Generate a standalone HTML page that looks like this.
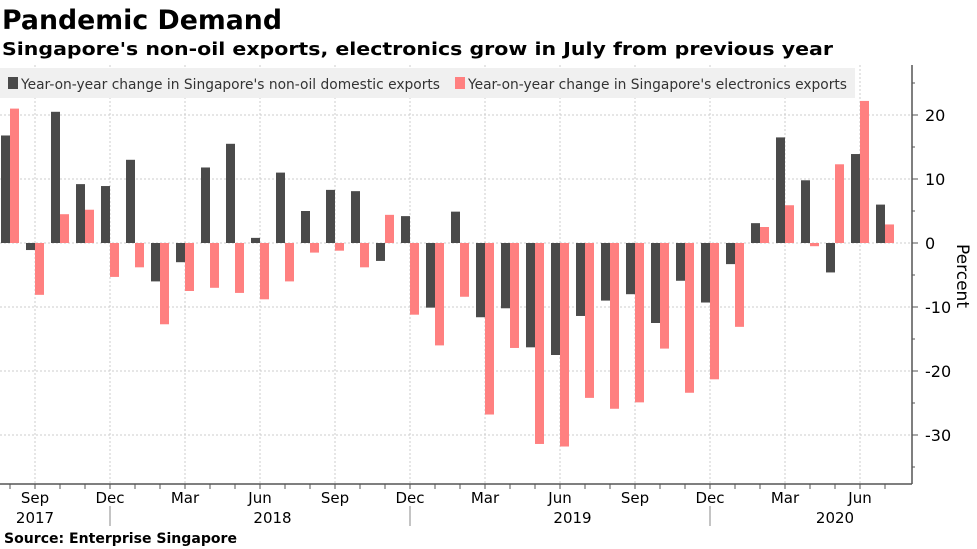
<!DOCTYPE html>
<html><head><meta charset="utf-8"><style>
body{margin:0;background:#fff;width:977px;height:549px;overflow:hidden;font-family:"DejaVu Sans","Liberation Sans",sans-serif}
</style></head><body>
<svg width="977" height="549" style="position:absolute;left:0;top:0">
<text x="2" y="29" font-size="27" font-weight="bold" fill="#000" textLength="280" lengthAdjust="spacingAndGlyphs">Pandemic Demand</text>
<text x="2" y="55" font-size="18" font-weight="bold" fill="#000" textLength="831" lengthAdjust="spacingAndGlyphs">Singapore's non-oil exports, electronics grow in July from previous year</text>
<g id="grid"></g>
<g id="bars"></g>
<g id="axes"></g>
<rect x="0" y="68" width="855" height="30" fill="#f0f0f0"/>
<rect x="8" y="77" width="10" height="12" fill="#4a4a4a"/>
<text x="21" y="89" font-size="14" fill="#333" textLength="419" lengthAdjust="spacingAndGlyphs">Year-on-year change in Singapore's non-oil domestic exports</text>
<rect x="455" y="77" width="10" height="12" fill="#ff8080"/>
<text x="468" y="89" font-size="14" fill="#333" textLength="379" lengthAdjust="spacingAndGlyphs">Year-on-year change in Singapore's electronics exports</text>
<text transform="translate(957,276) rotate(90)" font-size="17" fill="#000" text-anchor="middle">Percent</text>
<text x="4" y="543" font-size="14" font-weight="bold" fill="#000" textLength="233" lengthAdjust="spacingAndGlyphs">Source: Enterprise Singapore</text>
</svg>
<script>
const nonOil=[16.8,-1.1,20.5,9.2,8.9,13,-6,-3,11.8,15.5,0.8,11,5,8.3,8.1,-2.8,4.2,-10.1,4.9,-11.6,-10.2,-16.3,-17.5,-11.4,-9,-8,-12.5,-5.9,-9.3,-3.3,3.1,16.5,9.8,-4.6,13.9,6];
const electronics=[21,-8.1,4.5,5.2,-5.3,-3.8,-12.7,-7.5,-7,-7.8,-8.8,-6,-1.5,-1.2,-3.8,4.4,-11.2,-16,-8.4,-26.8,-16.4,-31.4,-31.8,-24.2,-25.9,-24.9,-16.5,-23.4,-21.3,-13.1,2.5,5.9,-0.5,12.3,22.2,2.9];
const yTicks=[20,10,0,-10,-20,-30];
const quarterLabels=["Sep","Dec","Mar","Jun","Sep","Dec","Mar","Jun","Sep","Dec","Mar","Jun"];
const quarterIdx=[1,4,7,10,13,16,19,22,25,28,31,34];
const years=["2017","2018","2019","2020"];
const yearCenter=[1,10.5,22.5,33];
const NS="http://www.w3.org/2000/svg";
const xC=i=>10+25*i;
const yS=v=>243-6.4*v;
const plotTop=65,plotBottom=484,plotRight=912;
function mk(g,tag,a){const e=document.createElementNS(NS,tag);for(const k in a)e.setAttribute(k,a[k]);document.getElementById(g).appendChild(e);return e;}
yTicks.forEach(v=>{
 const l=mk('grid','line',{x1:0,x2:plotRight,y1:yS(v),y2:yS(v),stroke:'#ccc','stroke-dasharray':'2,2'});
 
 
 const t=mk('axes','text',{x:925,y:yS(v)+6,'font-size':16,fill:'#000'});t.textContent=v;
 
 
 mk('axes','line',{x1:plotRight,x2:plotRight+6,y1:yS(v),y2:yS(v),stroke:'#555'});
});
for(let v=-35;v<=25;v+=5){mk('axes','line',{x1:plotRight,x2:plotRight+3,y1:yS(v),y2:yS(v),stroke:'#555'});}
quarterIdx.forEach((m,k)=>{
 const l=mk('grid','line',{x1:xC(m),x2:xC(m),y1:plotTop,y2:plotBottom,stroke:'#ccc','stroke-dasharray':'2,2'});
 
 
 const t=mk('axes','text',{x:xC(m),y:503,'font-size':15,fill:'#000','text-anchor':'middle'});t.textContent=quarterLabels[k];
 
 
});
nonOil.forEach((v,i)=>{
 const r=mk('bars','rect',{x:xC(i)-9,width:9,y:Math.min(yS(v),yS(0)),height:Math.abs(yS(v)-yS(0)),fill:'#4a4a4a'});
 
 
 const p=mk('bars','rect',{x:xC(i),width:9,y:Math.min(yS(electronics[i]),yS(0)),height:Math.abs(yS(electronics[i])-yS(0)),fill:'#ff8080'});
 
 
 mk('axes','line',{x1:xC(i),x2:xC(i),y1:plotBottom,y2:plotBottom+5,stroke:'#555'});
});
mk('axes','line',{x1:0,x2:plotRight,y1:plotBottom,y2:plotBottom,stroke:'#555','stroke-width':1.5});
mk('axes','line',{x1:plotRight,x2:plotRight,y1:plotTop,y2:plotBottom,stroke:'#555','stroke-width':1.5});
[4,16,28].forEach(m=>mk('axes','line',{x1:xC(m),x2:xC(m),y1:506,y2:526,stroke:'#888'}));
years.forEach((y,k)=>{
 const t=mk('axes','text',{x:xC(yearCenter[k]),y:523,'font-size':15,fill:'#000','text-anchor':'middle'});t.textContent=y;
 
 
});
</script>
</body></html>
